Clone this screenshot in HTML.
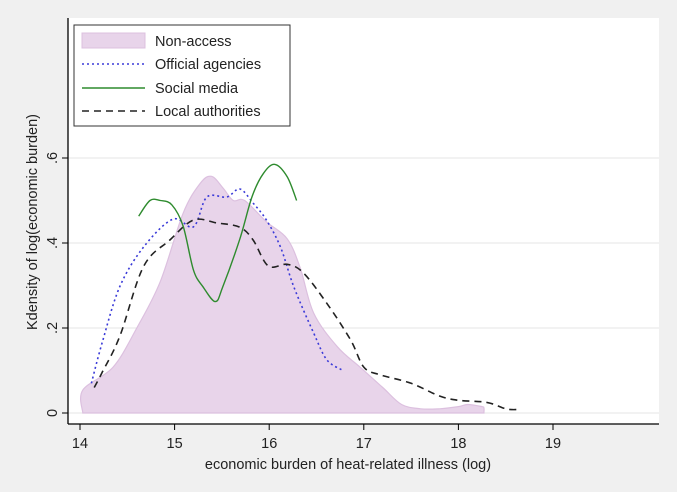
<!DOCTYPE html>
<html><head><meta charset="utf-8"><style>
body{margin:0;background:#f0f0f0;}
svg{display:block;font-family:"Liberation Sans",sans-serif;}
</style></head><body>
<svg id="c" width="677" height="492">
<rect x="0" y="0" width="677" height="492" fill="#f0f0f0"/>
<rect x="68" y="18" width="591" height="406" fill="#fff"/>
<g id="grid"></g>
<g id="marks"></g>
<line x1="68" y1="18" x2="68" y2="424" stroke="#000" stroke-width="1.3"/>
<line x1="68" y1="424" x2="659" y2="424" stroke="#000" stroke-width="1.3"/>
<g id="ticks"></g>
<text x="0" y="0" transform="translate(37,222) rotate(-90)" text-anchor="middle" font-size="14.5" fill="#222">Kdensity of log(economic burden)</text>
<text x="348" y="469" text-anchor="middle" font-size="14.5" fill="#222">economic burden of heat-related illness (log)</text>
<g>
<rect x="74" y="25" width="216" height="101" fill="#fff" stroke="#333" stroke-width="1"/>
<rect x="82" y="33" width="63" height="15" fill="#e8d4ea" stroke="#dcc0df"/>
<text x="155" y="46" font-size="14.5" fill="#222">Non-access</text>
<line x1="82" y1="64" x2="145" y2="64" stroke="#3a3ad8" stroke-width="1.6" stroke-dasharray="2,3"/>
<text x="155" y="69" font-size="14.5" fill="#222">Official agencies</text>
<line x1="82" y1="88" x2="145" y2="88" stroke="#2e8b2e" stroke-width="1.4"/>
<text x="155" y="93" font-size="14.5" fill="#222">Social media</text>
<line x1="82" y1="111" x2="145" y2="111" stroke="#222" stroke-width="1.6" stroke-dasharray="7,5"/>
<text x="155" y="116" font-size="14.5" fill="#222">Local authorities</text>
</g>
</svg>
<script>
const xTicks=[14,15,16,17,18,19];
const yTicks=[0,0.2,0.4,0.6];
const yTickLabels=["0",".2",".4",".6"];
const nonX=[14.03,14.03,14.35,14.6,14.85,15.09,15.27,15.39,15.51,15.62,15.74,15.97,16.19,16.33,16.47,16.72,16.96,17.2,17.4,17.6,17.8,18.0,18.1,18.25,18.27,18.27];
const nonY=[0,0.054,0.108,0.2,0.31,0.47,0.54,0.557,0.53,0.5,0.5,0.45,0.41,0.34,0.235,0.156,0.108,0.06,0.02,0.01,0.01,0.015,0.02,0.015,0.012,0];
const offX=[14.12,14.24,14.42,14.67,14.98,15.2,15.34,15.55,15.69,15.83,15.97,16.12,16.26,16.47,16.61,16.78];
const offY=[0.07,0.17,0.297,0.39,0.456,0.438,0.508,0.508,0.527,0.494,0.454,0.39,0.297,0.188,0.125,0.1];
const socX=[14.62,14.74,14.85,14.97,15.09,15.2,15.3,15.43,15.51,15.69,15.82,15.94,16.06,16.19,16.29];
const socY=[0.463,0.5,0.5,0.49,0.44,0.336,0.297,0.262,0.297,0.41,0.51,0.564,0.585,0.556,0.5];
const locX=[14.15,14.23,14.42,14.67,14.95,15.2,15.45,15.69,15.83,15.99,16.19,16.36,16.61,16.86,17.0,17.17,17.5,17.8,18.0,18.3,18.5,18.62];
const locY=[0.06,0.094,0.18,0.344,0.407,0.454,0.447,0.437,0.407,0.346,0.35,0.33,0.258,0.172,0.108,0.09,0.07,0.04,0.03,0.025,0.01,0.008];
const NS='http://www.w3.org/2000/svg';
const sx=v=>80+(v-14)*94.6;
const sy=v=>413-v*425;
function mk(tag,attrs,parent){const e=document.createElementNS(NS,tag);for(const k in attrs)e.setAttribute(k,attrs[k]);document.getElementById(parent).appendChild(e);return e;}
yTicks.forEach((t,i)=>{
 const g=mk('line',{x1:68,x2:659,y1:sy(t),y2:sy(t),stroke:'#e4e4e4','stroke-width':1},'grid');
 
 
 const tk=mk('line',{x1:62,x2:68,y1:sy(t),y2:sy(t),stroke:'#000'},'ticks');
 
 
 const tx=mk('text',{x:0,y:0,transform:`translate(57,${sy(t)}) rotate(-90)`,'text-anchor':'middle','font-size':14.5,fill:'#222'},'ticks');
 tx.textContent=yTickLabels[i];
 
 
});
xTicks.forEach(t=>{
 const tk=mk('line',{x1:sx(t),x2:sx(t),y1:424,y2:430,stroke:'#000'},'ticks');
 
 
 const tx=mk('text',{x:sx(t),y:448,'text-anchor':'middle','font-size':14.5,fill:'#222'},'ticks');
 tx.textContent=t;
 
 
});
function smooth(X,Y,close){
 const P=X.map((x,i)=>[sx(x),sy(Y[i])]);
 let d='M'+P[0][0].toFixed(1)+','+P[0][1].toFixed(1);
 for(let i=0;i<P.length-1;i++){
  const p0=P[Math.max(i-1,0)],p1=P[i],p2=P[i+1],p3=P[Math.min(i+2,P.length-1)];
  const c1=[p1[0]+(p2[0]-p0[0])/6,p1[1]+(p2[1]-p0[1])/6];
  const c2=[p2[0]-(p3[0]-p1[0])/6,p2[1]-(p3[1]-p1[1])/6];
  d+=` C${c1[0].toFixed(1)},${c1[1].toFixed(1)} ${c2[0].toFixed(1)},${c2[1].toFixed(1)} ${p2[0].toFixed(1)},${p2[1].toFixed(1)}`;
 }
 return close?d+'Z':d;
}
const a=mk('path',{d:smooth(nonX,nonY,true),fill:'#e8d4ea',stroke:'#dcc0df','stroke-width':1.2},'marks');


const o=mk('path',{d:smooth(offX,offY),fill:'none',stroke:'#3a3ad8','stroke-width':1.6,'stroke-dasharray':'2,3'},'marks');


const l=mk('path',{d:smooth(locX,locY),fill:'none',stroke:'#222','stroke-width':1.6,'stroke-dasharray':'7,5'},'marks');


const s=mk('path',{d:smooth(socX,socY),fill:'none',stroke:'#2e8b2e','stroke-width':1.4},'marks');


</script>
</body></html>
